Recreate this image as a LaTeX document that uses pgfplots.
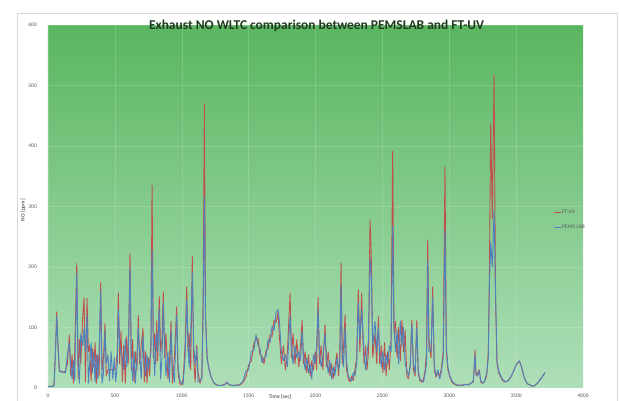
\documentclass[border=0pt]{standalone}
\usepackage{pgfplots}
\pgfplotsset{compat=1.18}
\usepackage{pgfplotstable}
\usepackage{fontspec}
\setmainfont{Carlito}
\definecolor{ftuv}{HTML}{C0504D}
\definecolor{pems}{HTML}{4F81BD}
\definecolor{bgtop}{HTML}{5AB660}
\definecolor{bgbot}{HTML}{AEDFB9}
\definecolor{ticktxt}{HTML}{595959}
\definecolor{chartframe}{HTML}{D9D9D9}
\definecolor{titletxt}{HTML}{1F3A1F}

% time [s], FT-UV [ppm], PEMS-LAB [ppm]
\pgfplotstableread{
t ft pems
0 3 2
15 2 3
30 3 2
45 5 4
55 60 50
65 126 118
75 70 65
85 30 28
100 27 26
115 26 27
130 28 25
145 40 55
160 88 75
170 20 35
180 55 15
190 8 45
200 60 12
215 206 190
225 15 40
235 80 8
245 40 90
260 120 70
270 149 100
280 10 60
292 148 120
302 60 8
312 70 40
322 12 75
332 65 25
342 35 60
352 75 10
362 8 55
372 55 15
382 20 60
394 174 160
404 30 8
415 50 25
426 107 95
436 20 40
448 30 55
460 31 12
472 30 60
484 31 15
496 30 50
506 32 10
518 60 40
526 157 130
536 40 70
546 94 60
556 10 50
566 70 30
578 8 80
588 85 35
600 40 60
613 223 200
623 30 50
633 80 12
643 10 60
653 60 8
665 30 50
675 120 100
685 40 60
697 70 15
710 99 85
720 10 50
730 60 20
740 8 55
750 50 30
760 20 45
770 80 60
778 335 228
788 50 70
798 90 20
806 40 80
813 112 90
820 45 60
832 151 130
842 60 15
852 80 50
862 159 140
872 50 70
882 90 20
897 15 60
908 40 10
920 110 95
930 8 35
945 50 10
962 134 120
972 25 40
985 8 12
998 5 8
1010 15 6
1025 70 50
1037 167 145
1047 60 80
1055 90 35
1067 30 90
1079 217 190
1089 50 70
1100 10 40
1112 71 65
1122 25 10
1137 8 12
1150 20 15
1160 150 120
1169 470 316
1178 120 110
1190 50 48
1205 30 30
1220 18 18
1240 8 9
1260 5 5
1290 4 4
1320 6 5
1338 10 9
1355 5 6
1380 4 4
1400 5 4
1420 4 5
1440 6 7
1460 10 12
1480 18 28
1500 38 30
1520 45 60
1540 75 62
1555 78 88
1570 82 70
1585 55 65
1600 52 42
1615 40 50
1630 62 52
1645 65 80
1660 88 75
1675 85 102
1690 112 95
1705 108 125
1720 125 130
1730 85 110
1745 40 60
1760 70 45
1775 30 55
1790 60 35
1810 157 120
1820 50 70
1832 90 40
1847 40 70
1860 80 50
1875 35 60
1888 70 45
1900 112 95
1910 40 55
1922 60 30
1935 25 50
1948 55 25
1960 20 40
1972 45 15
1985 30 55
1998 60 40
2008 30 70
2019 150 130
2030 40 60
2042 70 35
2055 30 50
2071 105 90
2082 35 50
2095 60 25
2108 20 45
2120 40 15
2132 15 35
2145 35 20
2161 58 50
2172 20 30
2182 60 40
2191 206 170
2200 40 60
2210 70 35
2221 121 100
2232 30 45
2245 15 20
2258 10 15
2270 20 12
2282 12 25
2295 30 20
2308 50 40
2320 162 140
2332 60 80
2345 157 130
2355 79 90
2363 40 60
2375 70 30
2385 30 55
2396 60 80
2408 278 215
2418 212 180
2428 50 70
2445 90 110
2458 40 60
2470 118 100
2480 40 60
2492 70 35
2504 25 60
2516 75 30
2528 20 55
2540 60 40
2552 30 70
2565 80 60
2577 391 267
2587 90 100
2598 110 60
2610 50 95
2622 100 40
2634 45 110
2646 112 70
2658 60 100
2670 95 40
2683 20 30
2695 15 20
2708 40 35
2720 112 105
2732 30 40
2745 20 25
2757 112 100
2768 25 30
2780 12 15
2795 10 12
2808 15 10
2820 30 25
2830 60 40
2839 245 210
2848 80 60
2864 50 60
2876 167 150
2888 30 40
2900 18 20
2915 25 30
2928 20 15
2940 30 25
2955 60 50
2968 366 261
2978 60 70
2990 30 35
3005 18 20
3020 10 12
3040 6 7
3060 4 5
3080 5 4
3100 4 5
3120 6 6
3140 5 5
3160 8 7
3180 10 12
3193 63 55
3200 20 25
3212 25 20
3225 30 28
3235 10 12
3250 8 8
3262 10 10
3280 20 25
3292 60 50
3300 184 170
3310 437 240
3322 280 200
3335 517 294
3346 150 160
3357 40 45
3370 25 28
3385 18 20
3400 12 14
3420 10 10
3440 12 12
3460 18 18
3475 25 25
3490 33 33
3505 40 40
3524 44 45
3540 35 36
3555 22 22
3570 12 12
3585 7 7
3604 5 5
3620 3 3
3640 4 4
3660 8 8
3680 14 14
3700 20 20
3716 25 26
}\nodata

\begin{document}
\begin{tikzpicture}
\useasboundingbox (0bp,0bp) rectangle (619bp,401bp);
% chart area frame
\draw[chartframe, line width=0.75bp] (17bp,0bp) -- (17bp,388bp) -- (617bp,388bp) -- (617bp,0bp);
\begin{axis}[
    at={(48bp,13bp)}, anchor=south west,
    scale only axis, width=535bp, height=363bp,
    xmin=0, xmax=4000, ymin=0, ymax=600,
    xtick distance=500, ytick distance=100,
    axis background/.style={top color=bgtop, bottom color=bgbot},
    grid=major, grid style={white, opacity=0.16, line width=0.5bp},
    axis line style={draw=none},
    major tick length=0pt,
    /pgf/number format/assume math mode=true,
    /pgf/number format/1000 sep={},
    tick label style={font=\fontsize{5.5}{6}\selectfont, text=ticktxt},
    xticklabel style={anchor=north, inner sep=0pt, yshift=-6bp},
    yticklabel style={anchor=east, inner sep=0pt, xshift=-11bp},
    xlabel={Time [sec]},
    xlabel style={at={(axis description cs:0.434,0)}, anchor=north,
        inner sep=0pt, yshift=-6bp, font=\fontsize{5.5}{6}\selectfont, text=black!80},
    ylabel={NO [ppm]},
    ylabel style={at={(axis description cs:-0.0467,0.49)}, anchor=center,
        font=\fontsize{5.5}{6}\selectfont, text=black!80},
    title={Exhaust NO WLTC comparison between PEMSLAB and FT-UV},
    title style={at={(axis description cs:0.502,0.982)}, anchor=center,
        font=\fontsize{13.5}{15}\selectfont\bfseries, text=titletxt},
    legend style={at={(axis description cs:0.944,0.493)}, anchor=north west,
        draw=none, fill=none, font=\fontsize{5.5}{6}\selectfont, text=ticktxt,
        row sep=8bp, inner sep=0pt, nodes={inner sep=1bp}},
    legend cell align=left,
    legend image code/.code={\draw[#1] (0bp,0bp) -- (7bp,0bp);},
]
\addplot[ftuv, line width=0.9bp, line join=round, mark=none] table[x=t, y=ft] {\nodata};
\addlegendentry{FT-UV}
\addplot[pems, line width=0.9bp, line join=round, mark=none] table[x=t, y=pems] {\nodata};
\addlegendentry{PEMS-LAB}
\end{axis}
\end{tikzpicture}
\end{document}
